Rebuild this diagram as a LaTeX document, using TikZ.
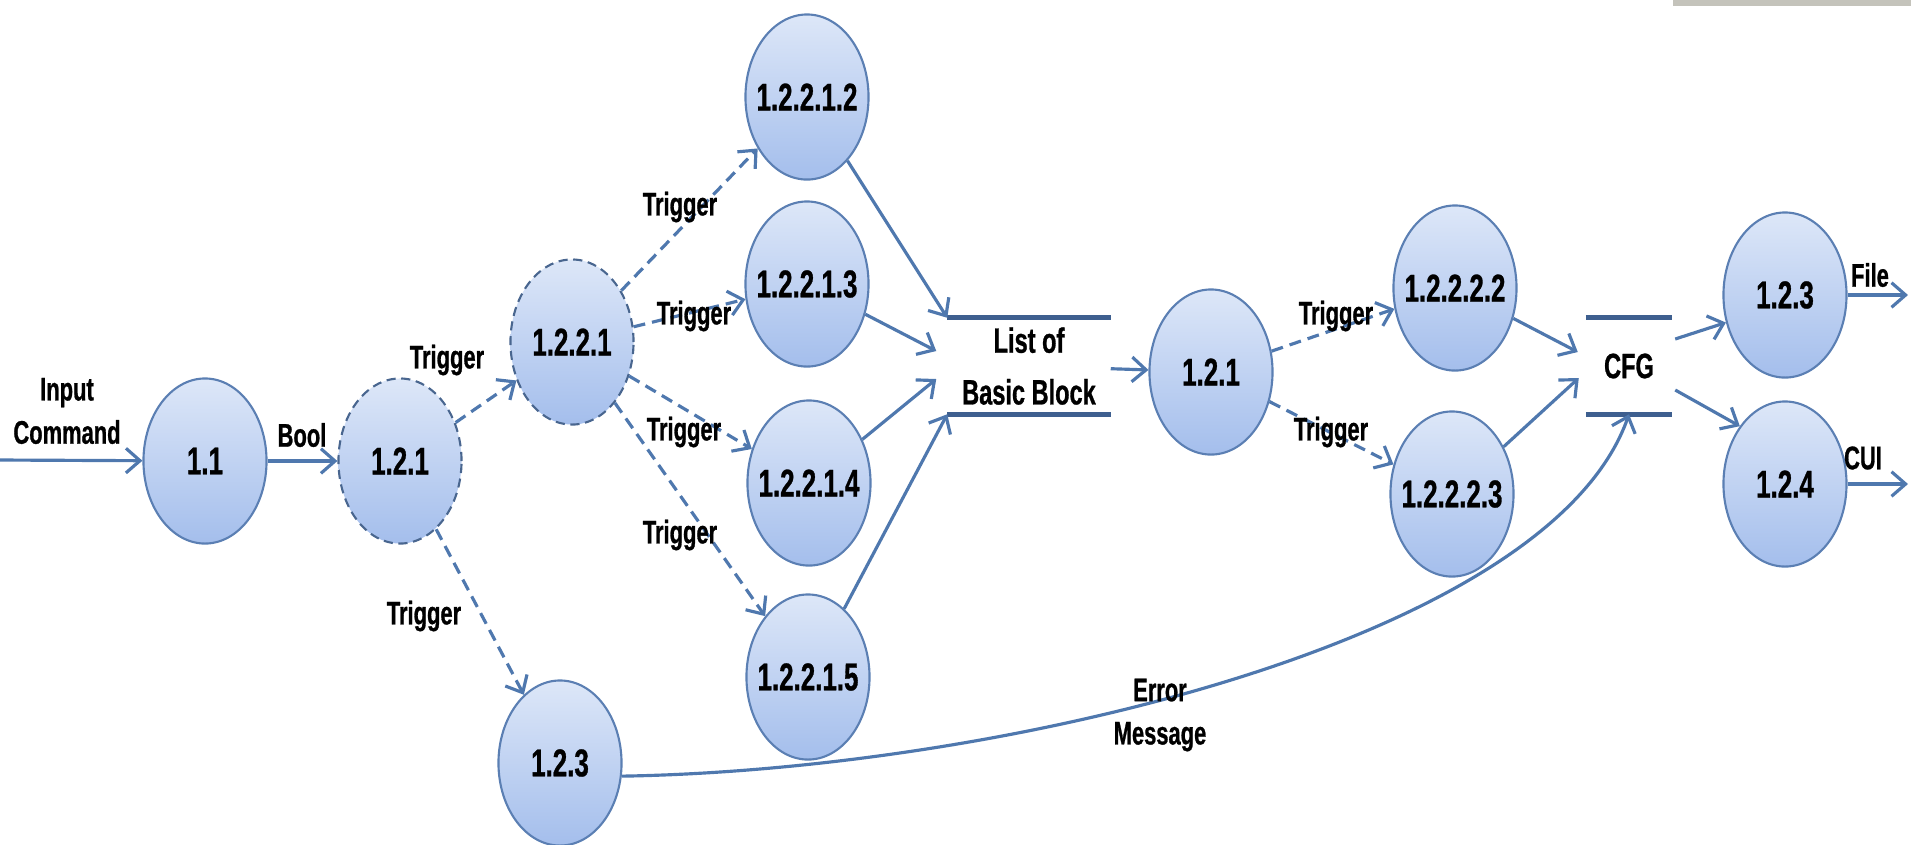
\documentclass[tikz,border=0pt]{standalone}
\usepackage{fontspec}
\setmainfont{Liberation Sans}[FakeStretch=0.67,FakeBold=0.8]
\usetikzlibrary{shapes.geometric, arrows.meta, calc}
\newcommand{\pxScale}{0.01}
\newcommand{\pnum}[1]{\makebox[0pt]{#1}}
\definecolor{lineblue}{HTML}{4F78AE}
\definecolor{rimblue}{HTML}{5B7FB3}
\definecolor{barblue}{HTML}{3E5F8F}
\definecolor{topfill}{HTML}{DDE7F8}
\definecolor{botfill}{HTML}{A4BEEC}
\definecolor{edgegray}{HTML}{C4C3BB}

\tikzset{
  bubble/.style={ellipse, draw=rimblue, line width=0.6pt, top color=topfill, bottom color=botfill,
    minimum width=1.23cm, minimum height=1.65cm, inner sep=0pt, font=\bfseries\fontsize{11}{13}\selectfont},
  dbubble/.style={bubble, draw=rimblue!80!black, dash pattern=on 2.6pt off 1.6pt},
  store/.style={minimum width=1.62cm, minimum height=0.95cm, inner sep=0pt, align=center,
    font=\bfseries\fontsize{10}{14.7}\selectfont},
  storeline/.style={draw=barblue, line width=1.4pt},
  lbl/.style={inner sep=0pt, align=center, font=\bfseries\fontsize{9.3}{12.3}\selectfont},
  flow/.style={draw=lineblue, line width=0.9pt, -{Straight Barb[length=4pt,width=7pt]}},
  trig/.style={flow, dash pattern=on 3.4pt off 2pt},
}

\begin{document}
\begin{tikzpicture}[x=\pxScale cm, y=-\pxScale cm]
\useasboundingbox (0,0) rectangle (1911,844);
% edge of the window in the top corner
\fill[edgegray] (1673,0) rectangle (1911,6);

% processes
\node[bubble] (n11) at (205,461) {\pnum{1.1}};
\node[dbubble] (n121) at (400,461) {\pnum{1.2.1}};
\node[dbubble] (n1221) at (572,342) {\pnum{1.2.2.1}};
\node[bubble] (n12212) at (807,97) {\pnum{1.2.2.1.2}};
\node[bubble] (n12213) at (807,284) {\pnum{1.2.2.1.3}};
\node[bubble] (n12214) at (809,483) {\pnum{1.2.2.1.4}};
\node[bubble] (n12215) at (808,677) {\pnum{1.2.2.1.5}};
\node[bubble] (n123a) at (560,763) {\pnum{1.2.3}};
\node[bubble] (n121b) at (1211,372) {\pnum{1.2.1}};
\node[bubble] (n12222) at (1455,288) {\pnum{1.2.2.2.2}};
\node[bubble] (n12223) at (1452,494) {\pnum{1.2.2.2.3}};
\node[bubble] (n123b) at (1785,295) {\pnum{1.2.3}};
\node[bubble] (n124) at (1785,484) {\pnum{1.2.4}};

% data stores
\node[store] (lbb) at (1029,366) {List of\\Basic Block};
\draw[storeline] (lbb.north west) -- (lbb.north east);
\draw[storeline] (lbb.south west) -- (lbb.south east);
\node[store, minimum width=0.85cm] (cfg) at (1629,366) {CFG};
\draw[storeline] (cfg.north west) -- (cfg.north east);
\draw[storeline] (cfg.south west) -- (cfg.south east);

% free ends
\coordinate (inp) at (0,460);
\coordinate (fileout) at (1908,295);
\coordinate (cuiout) at (1908,484);

% flows
\draw[flow] (inp) -- (n11);
\draw[flow] (n11) -- (n121);
\draw[trig] (n121) -- (n1221);
\draw[trig] (n121) -- (n123a);
\foreach \k in {2,...,5}
  \draw[trig] (n1221) -- (n1221\k);
\draw[flow] (n12212) -- (lbb.north west);
\draw[flow] (n12213) -- ($(lbb.west)+(-11,-15)$);
\draw[flow] (n12214) -- ($(lbb.west)+(-11,13)$);
\draw[flow] (n12215) -- (lbb.south west);
\draw[flow] (lbb) -- (n121b);
\draw[trig] (n121b) -- (n12222);
\draw[trig] (n121b) -- (n12223);
\draw[flow] (n12222) -- ($(cfg.west)+(-8,-14)$);
\draw[flow] (n12223) -- ($(cfg.west)+(-7,12)$);
\draw[flow] ($(cfg.east)+(3,-27)$) -- (n123b.205);
\draw[flow] ($(cfg.east)+(3,24)$) -- (n124.128);
\draw[flow] (n123b) -- (fileout);
\draw[flow] (n124) -- (cuiout);
\draw[flow] (n123a.-12) .. controls (1000,770) and (1550,640) .. (cfg.south);

% labels
\node[lbl] (tin) at (67,411) {Input\\Command};
\node[lbl] (tbool) at (302,435) {Bool};
\node[lbl] (t1) at (447,360) {Trigger};
\node[lbl] (t2) at (680,207) {Trigger};
\node[lbl] (t3) at (694,316) {Trigger};
\node[lbl] (t4) at (684,432) {Trigger};
\node[lbl] (t5) at (680,535) {Trigger};
\node[lbl] (t6) at (424,616) {Trigger};
\node[lbl] (t7) at (1336,316) {Trigger};
\node[lbl] (t8) at (1331,432) {Trigger};
\node[lbl] (terr) at (1160,715) {Error\\Message};
\node[lbl] (tfile) at (1870,275) {File};
\node[lbl] (tcui) at (1863,458) {CUI};
\end{tikzpicture}
\end{document}
